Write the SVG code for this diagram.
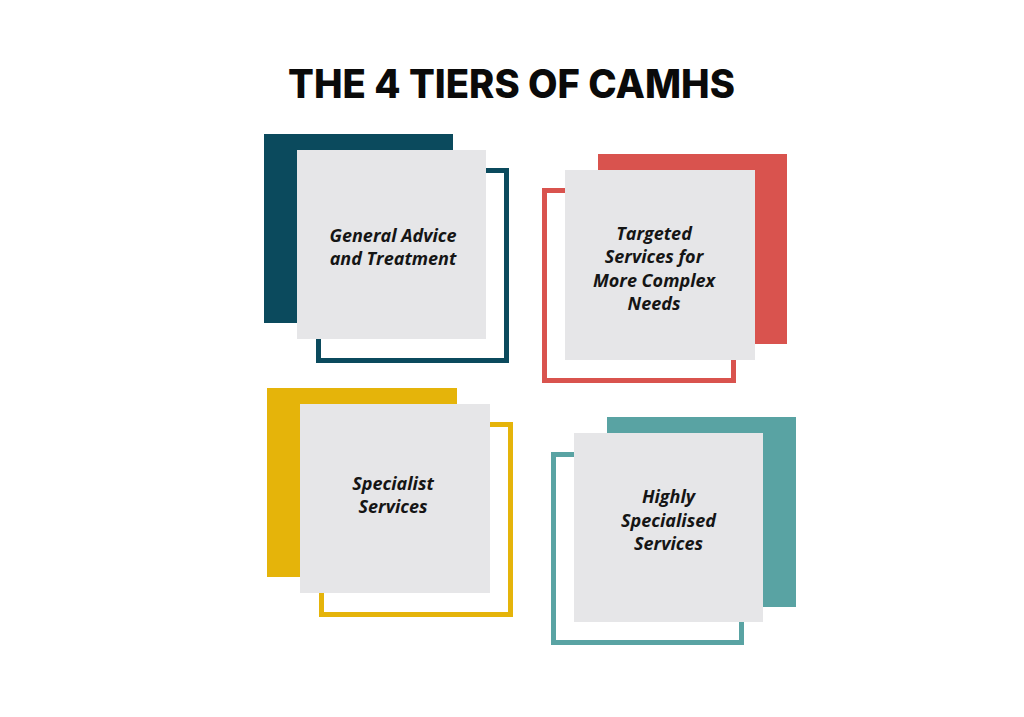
<svg xmlns="http://www.w3.org/2000/svg" width="1024" height="717" viewBox="0 0 1024 717">
  <style>
    .title { font-family: "Inter", "Noto Sans", "Liberation Sans", sans-serif; font-weight: 800; font-size: 39px; fill: #0a0a0a; }
    .card { fill: #e6e6e8; }
    .label { font-family: "Open Sans", "Noto Sans", "Liberation Sans", sans-serif; font-weight: 700; font-style: italic; font-size: 18px; fill: #151515; text-anchor: middle; }
    .outline { fill: none; stroke-width: 5; }
  </style>
  <rect width="1024" height="717" fill="#ffffff"/>
  <text class="title" x="511.5" y="98" text-anchor="middle" textLength="447" lengthAdjust="spacingAndGlyphs">THE 4 TIERS OF CAMHS</text>

  <g id="tier1">
    <rect x="264" y="134" width="189" height="189" fill="#0b4a5d"/>
    <rect class="outline" x="318.5" y="170.5" width="188" height="190" stroke="#0b4a5d"/>
    <rect class="card" x="297" y="150" width="189" height="189"/>
    <text class="label" x="393" y="241.5">General Advice</text>
    <text class="label" x="393" y="265">and Treatment</text>
  </g>

  <g id="tier2">
    <rect x="598" y="154" width="189" height="190" fill="#d9534e"/>
    <rect class="outline" x="544.5" y="190.5" width="189" height="190" stroke="#d9534e"/>
    <rect class="card" x="565" y="170" width="190" height="190"/>
    <text class="label" x="654" y="240">Targeted</text>
    <text class="label" x="654" y="263.3">Services for</text>
    <text class="label" x="654" y="286.7">More Complex</text>
    <text class="label" x="654" y="310">Needs</text>
  </g>

  <g id="tier3">
    <rect x="267" y="388" width="190" height="189" fill="#e5b40a"/>
    <rect class="outline" x="321.5" y="424.5" width="189" height="190" stroke="#e5b40a"/>
    <rect class="card" x="300" y="404" width="190" height="189"/>
    <text class="label" x="393" y="490">Specialist</text>
    <text class="label" x="393" y="513.3">Services</text>
  </g>

  <g id="tier4">
    <rect x="607" y="417" width="189" height="190" fill="#59a3a3"/>
    <rect class="outline" x="553.5" y="454.5" width="188" height="188" stroke="#59a3a3"/>
    <rect class="card" x="574" y="433" width="189" height="189"/>
    <text class="label" x="668.5" y="503.3">Highly</text>
    <text class="label" x="668.5" y="526.7">Specialised</text>
    <text class="label" x="668.5" y="550">Services</text>
  </g>
</svg>
